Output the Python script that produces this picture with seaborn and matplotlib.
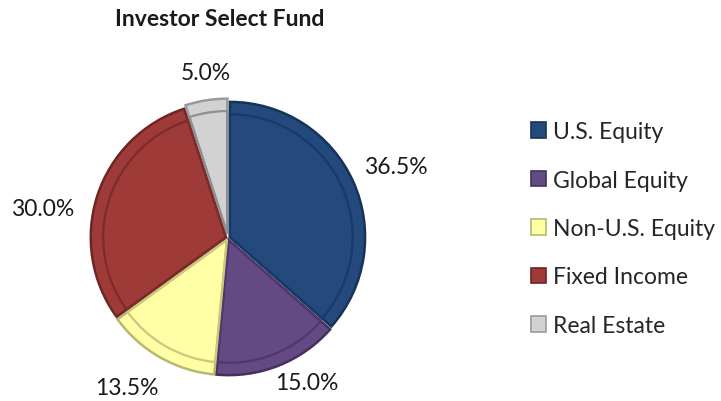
import matplotlib
matplotlib.use("Agg")
import numpy as np
import matplotlib.pyplot as plt
import seaborn as sns
from matplotlib.patches import Patch

categories = ["U.S. Equity", "Global Equity", "Non-U.S. Equity", "Fixed Income", "Real Estate"]
values = [36.5, 15.0, 13.5, 30.0, 5.0]
title = "Investor Select Fund"

colors = ["#23497D", "#634A82", "#FFFFA6", "#9E3B39", "#D2D2D2"]
edges = ["#163358", "#45305E", "#B8B870", "#6E2523", "#9A9A9A"]
inner = ["#183a68", "#4f386c", "#c9c97c", "#7c2b29", "#8f8f8f"]
# label placement style (distance from centre, angular nudge in degrees)
label_dist = [1.32, 1.19, 1.305, 1.36, 1.21]
label_nudge = [-1.1, 7.1, -4.4, 9.1, -1.4]

sns.set_theme(style="white")
plt.rcParams["font.family"] = ["Lato", "DejaVu Sans"]

fig = plt.figure(figsize=(7.21, 4.02), dpi=100)
ax = fig.add_axes([0.1248, 0.0622, 0.3828, 0.6866])
pal = sns.color_palette(colors)
explode = [0.015, 0.015, 0.015, 0.015, 0.03]
wedges, texts = ax.pie(values, colors=pal, startangle=90, counterclock=False,
                       explode=explode, radius=0.98,
                       wedgeprops=dict(edgecolor="white", linewidth=0.8))
for w, e in zip(wedges, edges):
    w.set_edgecolor(e)
    w.set_linewidth(1.8)
# inner bevel line
w2, _ = ax.pie(values, colors=["none"] * 5, startangle=90, counterclock=False,
               explode=explode, radius=0.89,
               wedgeprops=dict(linewidth=1.6, fill=False))
for w, c in zip(w2, inner):
    w.set_edgecolor(c)
    w.set_fill(False)

for w, v, d, n in zip(wedges, values, label_dist, label_nudge):
    ang = np.deg2rad((w.theta1 + w.theta2) / 2 + n)
    ax.text(d * np.cos(ang), d * np.sin(ang), f"{v:.1f}%", ha="center", va="center",
            fontsize=16.5, color="#1a1a1a")

ax.set_xlim(-1, 1)
ax.set_ylim(-1, 1)
ax.set_aspect("equal")
ax.axis("off")

fig.text(220 / 721, 1 - 20 / 402, title, ha="center", va="center",
         fontsize=16.5, fontweight="bold", color="#1a1a1a")

handles = [Patch(facecolor=c, edgecolor=e, linewidth=1.2) for c, e in zip(colors, edges)]
fig.legend(handles, categories, loc="upper left", bbox_to_anchor=(531 / 721, 1 - 122 / 402),
           frameon=False, fontsize=16.5, handlelength=0.65, handleheight=0.65,
           handletextpad=0.3, labelspacing=1.2, borderaxespad=0, borderpad=0)

fig.savefig("out.png", dpi=100)
